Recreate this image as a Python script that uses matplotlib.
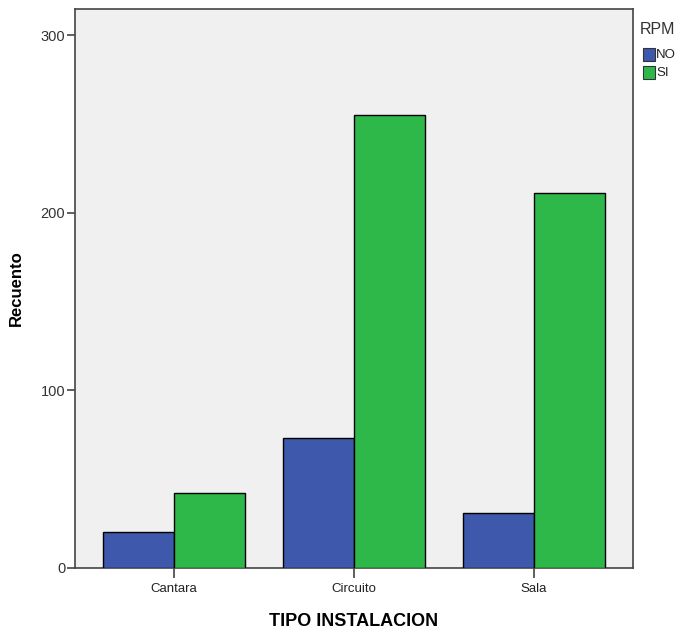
import matplotlib
matplotlib.use("Agg")
import matplotlib.pyplot as plt
import numpy as np
from matplotlib.patches import Rectangle

categories = ["Cantara", "Circuito", "Sala"]
no_values = [20, 73, 31]
si_values = [42, 255, 211]
series_names = ["NO", "SI"]
yticks = [0, 100, 200, 300]

plt.rcParams['font.family'] = ['Liberation Sans', 'DejaVu Sans']

fig = plt.figure(figsize=(6.82, 6.29), dpi=100)
ax = fig.add_axes([0.110, 0.097, 0.818, 0.889])
ax.set_facecolor("#F0F0F0")

x = np.arange(len(categories))
w = 0.395
ax.bar(x - w/2, no_values, w, color="#3E58AC", edgecolor="black", linewidth=1.0, zorder=3)
ax.bar(x + w/2, si_values, w, color="#2FB84A", edgecolor="black", linewidth=1.0, zorder=3)

ax.set_xlim(-0.55, 2.55)
ax.set_ylim(0, 315)
ax.set_xticks(x)
ax.set_xticklabels(categories, fontsize=9.5, color="#222222")
ax.set_yticks(yticks)
ax.set_yticklabels([str(t) for t in yticks], fontsize=10.5, color="#333333")
ax.tick_params(axis='y', length=6, width=1.2, color="#444444", pad=1)
ax.tick_params(axis='x', length=7, width=1.2, color="#444444", pad=4)
for s in ax.spines.values():
    s.set_linewidth(1.2)
    s.set_color("#444444")

ax.set_ylabel("Recuento", fontsize=12, fontweight="bold", labelpad=12)
ax.set_xlabel("TIPO INSTALACION", fontsize=13, fontweight="bold", labelpad=13)

# legend
fig.text(640/682, 1 - 30/629, "RPM", fontsize=11.5, color="#333333", va="center", ha="left")
colors = ["#3E58AC", "#2FB84A"]
for i, (name, c) in enumerate(zip(series_names, colors)):
    yc = 55 + i * 18
    fig.patches.append(Rectangle((643/682, 1 - (yc + 6)/629), 12/682, 13/629,
                                 transform=fig.transFigure, facecolor=c,
                                 edgecolor="#333333", linewidth=0.8))
    fig.text(656/682, 1 - yc/629, name, fontsize=9.5, color="#222222", va="center", ha="left")

fig.savefig("out.png", dpi=100)
